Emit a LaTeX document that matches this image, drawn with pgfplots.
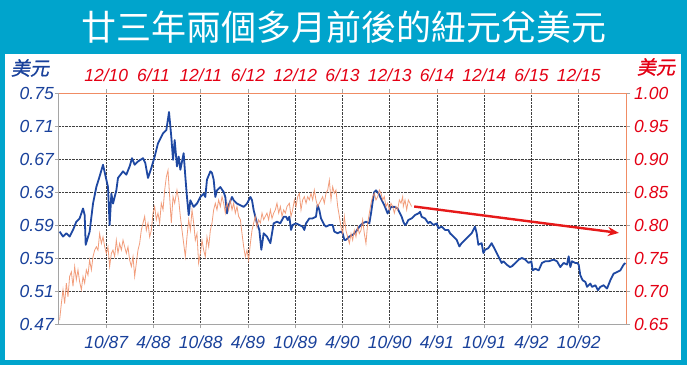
\documentclass[border=0pt]{standalone}
\usepackage{fontspec}
\setmainfont{Liberation Sans}
\newfontfamily\cjk{Noto Sans CJK TC}
\newfontfamily\cjkslant[FakeSlant=0.2,FakeBold=1]{Noto Sans CJK TC}
\usepackage{pgfplots}
\pgfplotsset{compat=1.18}
\usetikzlibrary{arrows.meta}
\definecolor{framecyan}{RGB}{0,164,204}
\definecolor{lineblue}{RGB}{30,72,162}
\definecolor{labblue}{RGB}{25,65,155}
\definecolor{labred}{RGB}{228,0,20}
\definecolor{salmon}{RGB}{240,140,100}
\definecolor{axgray}{RGB}{165,165,165}
\definecolor{arrowred}{RGB}{230,25,25}
\begin{document}
\begin{tikzpicture}
\fill[framecyan] (-59bp,-41bp) rectangle (628bp,324bp);
\fill[white] (-54bp,-36bp) rectangle (622bp,270bp);
\pgfplotsset{
  common/.style={
    at={(0,0)}, anchor=south west, scale only axis,
    width=567bp, height=231bp,
    xmin=0, xmax=72,
    xtick={6,12,18,24,30,36,42,48,54,60,66},
    tick align=outside, major tick length=4bp,
    tick style={axgray, line width=1bp},
    ticklabel style={font=\itshape\fontsize{17.5bp}{17.5bp}\selectfont, inner sep=1bp},
  }
}
\begin{axis}[common,
  ymin=0.47, ymax=0.75,
  axis x line*=bottom, axis y line*=left,
  axis line style={-, axgray, line width=1bp},
  ytick={0.47,0.51,0.55,0.59,0.63,0.67,0.71,0.75},
  yticklabels={0.47,0.51,0.55,0.59,0.63,0.67,0.71,0.75},
  xticklabels={10/87,4/88,10/88,4/89,10/89,4/90,10/90,4/91,10/91,4/92,10/92},
  yticklabel style={text=labblue},
  xticklabel style={text=labblue, yshift=-7bp},
  grid=major, grid style={densely dotted, black!75, line width=0.7bp},
]
\addplot[lineblue, line width=1.8bp, line join=round] coordinates {
(0.08,0.582)(0.51,0.576)(0.93,0.580)(1.35,0.576)(1.78,0.584)(2.20,0.594)(2.62,0.598)(3.05,0.610)(3.26,0.602)(3.39,0.566)
(3.89,0.582)(4.32,0.616)(4.74,0.636)(5.16,0.649)(5.59,0.663)(6.01,0.645)(6.22,0.636)(6.43,0.590)(6.65,0.628)(6.86,0.616)
(7.28,0.632)(7.49,0.647)(8.13,0.655)(8.55,0.651)(8.97,0.661)(9.27,0.671)(9.61,0.663)(10.03,0.667)(10.67,0.671)(10.96,0.665)
(11.30,0.647)(11.72,0.659)(12.15,0.673)(12.57,0.689)(13.21,0.701)(13.63,0.705)(13.97,0.727)(14.26,0.697)(14.48,0.669)(14.69,0.693)
(14.98,0.661)(15.20,0.673)(15.41,0.657)(15.83,0.677)(16.04,0.649)(16.25,0.624)(16.47,0.602)(16.68,0.620)(17.10,0.612)(17.52,0.616)
(17.95,0.624)(18.37,0.628)(18.58,0.624)(18.79,0.645)(19.22,0.655)(19.43,0.653)(19.64,0.645)(19.85,0.624)(20.06,0.632)(20.49,0.636)
(20.91,0.630)(21.12,0.624)(21.33,0.604)(21.54,0.614)(21.97,0.624)(22.18,0.620)(22.60,0.616)(23.03,0.614)(23.45,0.612)(23.87,0.616)
(24.30,0.624)(24.51,0.620)(24.72,0.608)(25.14,0.592)(25.44,0.584)(25.69,0.560)(25.99,0.580)(26.41,0.576)(26.84,0.568)(27.26,0.592)
(27.68,0.594)(28.10,0.592)(28.53,0.600)(28.83,0.600)(29.04,0.596)(29.25,0.600)(29.46,0.584)(29.67,0.590)(30.10,0.592)(30.52,0.590)
(30.94,0.588)(31.15,0.584)(31.37,0.592)(31.79,0.598)(32.21,0.598)(32.63,0.600)(32.84,0.614)(33.06,0.608)(33.27,0.598)(33.48,0.594)
(33.69,0.590)(33.90,0.588)(34.33,0.590)(34.75,0.590)(34.96,0.582)(35.39,0.580)(35.81,0.582)(36.02,0.580)(36.23,0.572)(36.44,0.572)
(36.87,0.576)(37.29,0.578)(37.71,0.582)(38.14,0.588)(38.56,0.592)(38.98,0.594)(39.41,0.592)(39.62,0.604)(39.83,0.618)(40.04,0.630)
(40.25,0.632)(40.59,0.628)(40.89,0.622)(41.31,0.614)(41.73,0.604)(41.95,0.608)(42.16,0.612)(42.58,0.612)(43.00,0.610)(43.30,0.604)
(43.51,0.600)(43.72,0.594)(43.94,0.590)(44.15,0.592)(44.36,0.596)(44.78,0.598)(45.21,0.602)(45.63,0.604)(45.84,0.606)(46.05,0.600)
(46.48,0.598)(46.90,0.592)(47.11,0.594)(47.53,0.590)(47.96,0.592)(48.17,0.586)(48.59,0.588)(49.02,0.584)(49.44,0.584)(49.65,0.580)
(50.08,0.576)(50.50,0.572)(50.84,0.564)(51.13,0.568)(51.56,0.572)(51.98,0.576)(52.40,0.580)(52.83,0.588)(53.04,0.580)(53.25,0.566)
(53.67,0.568)(53.89,0.556)(54.10,0.560)(54.52,0.562)(54.94,0.568)(55.37,0.560)(55.79,0.552)(56.21,0.544)(56.42,0.546)(56.85,0.542)
(57.27,0.539)(57.52,0.540)(57.95,0.544)(58.37,0.548)(58.79,0.550)(59.22,0.548)(59.64,0.544)(59.98,0.546)(60.15,0.535)(60.49,0.537)
(60.91,0.535)(61.33,0.544)(61.76,0.546)(62.18,0.546)(62.81,0.548)(63.24,0.546)(63.66,0.539)(64.08,0.544)(64.51,0.542)(64.72,0.552)
(64.93,0.539)(65.14,0.546)(65.57,0.544)(65.78,0.544)(65.99,0.542)(66.20,0.529)(66.50,0.523)(66.84,0.521)(67.05,0.515)(67.47,0.519)
(67.68,0.515)(68.11,0.517)(68.44,0.511)(68.74,0.515)(69.16,0.517)(69.59,0.513)(70.01,0.523)(70.43,0.531)(70.86,0.533)(71.28,0.535)
(71.70,0.542)(71.92,0.544)
};
\end{axis}
\begin{axis}[common,
  ymin=0.65, ymax=1.00,
  axis x line*=top, axis y line*=right,
  axis line style={-, salmon, line width=1bp},
  ytick={0.65,0.70,0.75,0.80,0.85,0.90,0.95,1.00},
  yticklabels={0.65,0.70,0.75,0.80,0.85,0.90,0.95,1.00},
  xticklabels={12/10,6/11,12/11,6/12,12/12,6/13,12/13,6/14,12/14,6/15,12/15},
  yticklabel style={text=labred, xshift=3bp},
  xticklabel style={text=labred, yshift=6bp},
]
\addplot[salmon, line width=0.8bp, opacity=0.85] coordinates {
(0.08,0.656)(0.30,0.681)(0.51,0.702)(0.72,0.681)(0.93,0.712)(1.14,0.691)(1.35,0.722)(1.57,0.729)(1.78,0.707)(1.99,0.737)
(2.20,0.717)(2.41,0.732)(2.62,0.714)(2.84,0.702)(3.05,0.722)(3.26,0.712)(3.47,0.732)(3.68,0.724)(3.89,0.747)(4.11,0.732)
(4.32,0.752)(4.53,0.762)(4.74,0.767)(4.95,0.762)(5.16,0.787)(5.38,0.772)(5.59,0.782)(5.80,0.767)(6.01,0.757)(6.22,0.767)
(6.43,0.737)(6.65,0.757)(6.86,0.762)(7.07,0.752)(7.28,0.777)(7.49,0.757)(7.70,0.772)(7.92,0.762)(8.13,0.777)(8.34,0.767)
(8.55,0.757)(8.76,0.767)(8.97,0.747)(9.19,0.737)(9.40,0.752)(9.61,0.722)(9.82,0.742)(10.03,0.762)(10.24,0.772)(10.45,0.792)
(10.67,0.803)(10.88,0.813)(11.09,0.792)(11.30,0.803)(11.51,0.782)(11.72,0.792)(11.94,0.818)(12.15,0.828)(12.36,0.808)(12.57,0.818)
(12.78,0.803)(12.99,0.833)(13.21,0.823)(13.42,0.853)(13.63,0.873)(13.84,0.883)(14.05,0.843)(14.26,0.803)(14.48,0.843)(14.69,0.833)
(14.98,0.853)(15.20,0.838)(15.41,0.813)(15.62,0.792)(15.83,0.772)(16.04,0.752)(16.25,0.782)(16.47,0.808)(16.68,0.792)(16.89,0.823)
(17.10,0.803)(17.31,0.777)(17.52,0.787)(17.73,0.742)(17.95,0.757)(18.16,0.777)(18.37,0.762)(18.58,0.752)(18.79,0.782)(19.01,0.767)
(19.22,0.792)(19.43,0.803)(19.64,0.823)(19.85,0.833)(20.06,0.823)(20.27,0.838)(20.49,0.828)(20.70,0.843)(20.91,0.833)(21.12,0.818)
(21.33,0.833)(21.54,0.823)(21.75,0.838)(21.97,0.823)(22.18,0.833)(22.39,0.818)(22.60,0.828)(22.81,0.813)(23.03,0.808)(23.24,0.787)
(23.45,0.767)(23.66,0.752)(23.87,0.762)(24.08,0.747)(24.30,0.772)(24.51,0.792)(24.72,0.803)(24.93,0.813)(25.14,0.797)(25.35,0.808)
(25.57,0.803)(25.78,0.818)(25.99,0.808)(26.20,0.813)(26.41,0.818)(26.62,0.808)(26.84,0.823)(27.05,0.810)(27.26,0.818)(27.47,0.823)
(27.68,0.833)(27.90,0.818)(28.11,0.828)(28.32,0.813)(28.53,0.823)(28.74,0.818)(28.95,0.828)(29.25,0.833)(29.46,0.813)(29.67,0.823)
(29.89,0.838)(30.10,0.828)(30.31,0.843)(30.52,0.848)(30.73,0.823)(30.94,0.838)(31.15,0.843)(31.37,0.833)(31.58,0.843)(31.79,0.838)
(32.00,0.848)(32.21,0.838)(32.42,0.853)(32.63,0.838)(32.84,0.828)(33.06,0.833)(33.27,0.838)(33.48,0.843)(33.69,0.833)(33.90,0.848)
(34.12,0.853)(34.33,0.868)(34.54,0.838)(34.75,0.858)(34.96,0.848)(35.17,0.853)(35.39,0.828)(35.60,0.813)(35.81,0.797)(36.02,0.787)
(36.23,0.813)(36.44,0.792)(36.65,0.782)(36.87,0.772)(37.08,0.787)(37.29,0.777)(37.50,0.792)(37.71,0.782)(37.92,0.797)(38.14,0.787)
(38.35,0.792)(38.56,0.808)(38.77,0.787)(38.98,0.772)(39.20,0.803)(39.41,0.818)(39.62,0.833)(39.83,0.843)(40.04,0.848)(40.25,0.838)
(40.47,0.843)(40.68,0.853)(40.89,0.848)(41.10,0.838)(41.31,0.843)(41.52,0.828)(41.73,0.833)(41.95,0.823)(42.16,0.833)(42.37,0.828)
(42.58,0.818)(42.79,0.828)(43.00,0.823)(43.22,0.838)(43.43,0.833)(43.64,0.843)(43.72,0.828)(43.94,0.838)(44.15,0.823)(44.36,0.838)
(44.57,0.833)(44.78,0.828)
};
\addplot[arrowred, line width=2.4bp, -{Stealth[length=11bp,width=9bp]}] coordinates {(45.1,0.828) (71.1,0.788)};
\end{axis}
\node[text=white, font=\cjk\fontsize{35bp}{35bp}\selectfont] at (285bp,297bp) {廿三年兩個多月前後的紐元兌美元};
\node[text=labblue, font=\cjkslant\fontsize{19bp}{19bp}\selectfont, inner sep=0pt] at (-29bp,256bp) {美元};
\node[text=labred, font=\cjkslant\fontsize{19bp}{19bp}\selectfont, inner sep=0pt] at (597bp,257bp) {美元};
\pgfresetboundingbox
\useasboundingbox (-59bp,-41bp) rectangle (628bp,324bp);
\end{tikzpicture}
\end{document}
